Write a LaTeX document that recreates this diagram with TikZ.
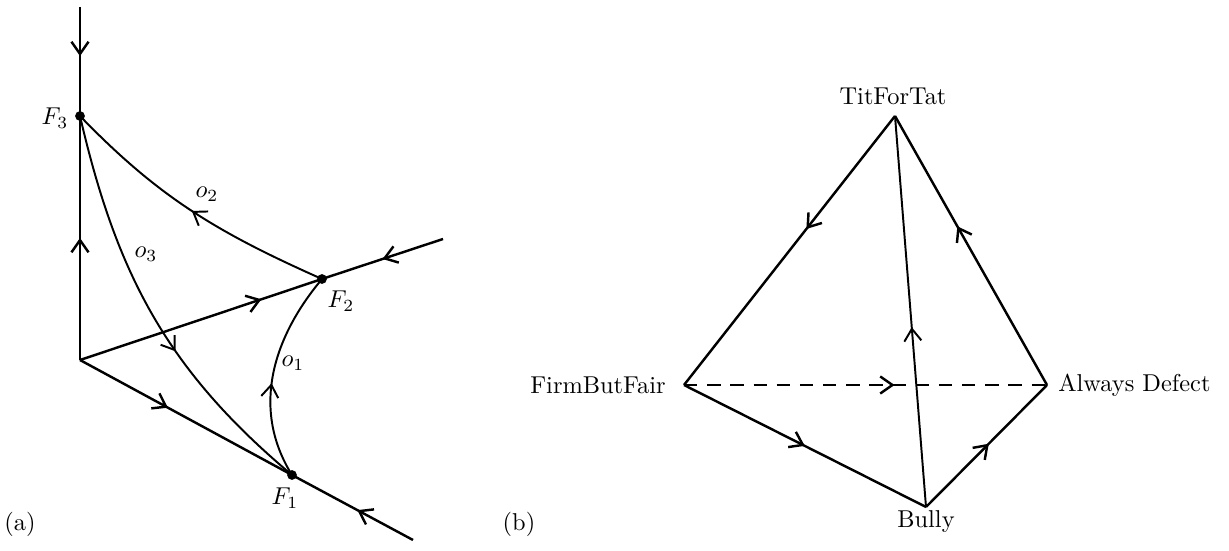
\documentclass[tikz,border=0pt]{standalone}
\usetikzlibrary{arrows.meta,decorations.markings}
\tikzset{
  barb/.tip={Straight Barb[length=5pt,width=7pt]},
  midarrow/.style={postaction={decorate,decoration={markings,mark=at position #1 with {\arrow{barb}}}}},
  fixpt/.style={circle,fill,inner sep=0pt,minimum size=4pt},
  orbit/.style={line width=0.8pt},
  dashline/.style={dash pattern=on 5.5pt off 4pt},
}
\begin{document}
\begin{tikzpicture}[x=0.41pt,y=0.41pt,line width=1pt]
  \useasboundingbox (0,0) rectangle (1229,550);
  % (a) phase portrait
  \path
    (80,543) coordinate (top)
    (80,434) coordinate (F3)
    (80,190) coordinate (O)
    (322,271) coordinate (F2)
    (443,311) coordinate (upend)
    (292,75) coordinate (F1)
    (413,10) coordinate (lowend);
  \begin{scope}[-]
    \draw[midarrow=0.45] (top) to (F3);
    \draw[midarrow=0.5] (O) to (F3);
    \draw[midarrow=0.75] (O) to (F2);
    \draw[midarrow=0.5] (upend) to (F2);
    \draw[midarrow=0.415] (O) to (F1);
    \draw[midarrow=0.46] (lowend) to (F1);
    \draw[orbit,midarrow=0.5] (F2) to[out=156,in=-46] (F3);
    \draw[orbit,midarrow=0.6] (F3) to[out=-77,in=140] (F1);
    \draw[orbit,midarrow=0.45] (F1) to[out=122,in=-130] (F2);
  \end{scope}
  \node[fixpt] (p1) at (F1) {};
  \node[fixpt] (p2) at (F2) {};
  \node[fixpt] (p3) at (F3) {};
  \node (lF1) at (285,52) {$F_1$};
  \node (lF2) at (341,249) {$F_2$};
  \node (lF3) at (55,432) {$F_3$};
  \node (lo1) at (293,187) {$o_1$};
  \node (lo2) at (207,356) {$o_2$};
  \node (lo3) at (146,296) {$o_3$};
  \node (capa) at (20,26) {(a)};
  % (b) strategy simplex
  \path
    (895,434) coordinate (tft)
    (684,165) coordinate (fbf)
    (1047,165) coordinate (ad)
    (926,43) coordinate (bully);
  \begin{scope}[-]
    \draw[midarrow=0.42] (tft) to (fbf);
    \draw[midarrow=0.59] (ad) to (tft);
    \draw[orbit,midarrow=0.46] (bully) to (tft);
    \draw[midarrow=0.5] (fbf) to (bully);
    \draw[midarrow=0.52] (bully) to (ad);
    \draw[dashline,midarrow=0.58] (fbf) to (ad);
  \end{scope}
  \node (ltft) at (893,454) {TitForTat};
  \node[anchor=east] (lfbf) at (675,165) {FirmButFair};
  \node[anchor=west] (lad) at (1049,165) {Always Defect};
  \node (lbully) at (926,28) {Bully};
  \node (capb) at (519,26) {(b)};
\end{tikzpicture}
\end{document}
